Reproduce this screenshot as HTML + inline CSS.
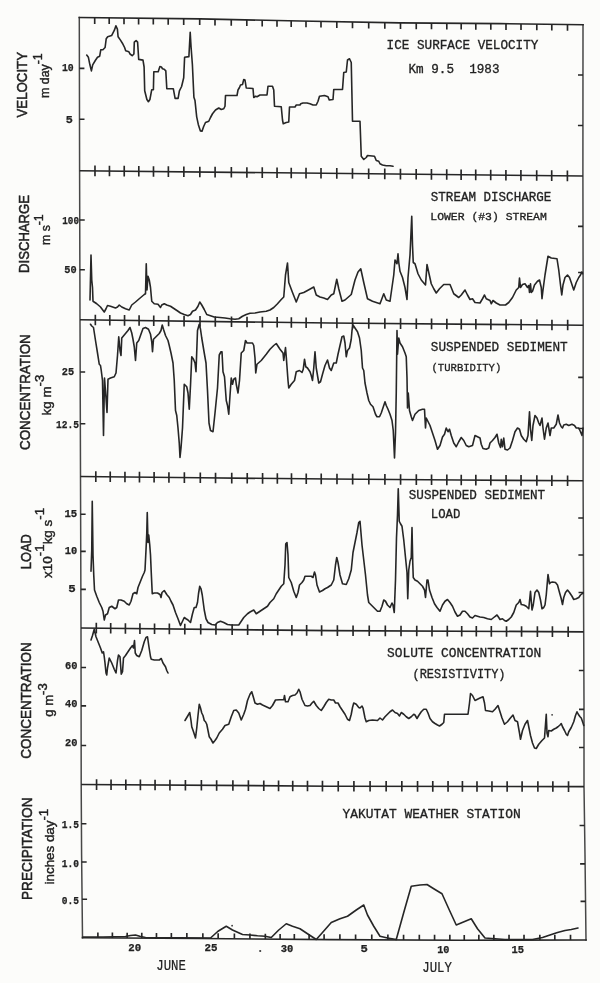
<!DOCTYPE html>
<html><head><meta charset="utf-8"><title>Figure</title>
<style>html,body{margin:0;padding:0;background:#fcfcfa;}svg{display:block;will-change:transform;}</style>
</head><body><svg width="600" height="983" viewBox="0 0 600 983"><rect width="600" height="983" fill="#fcfcfa"/><g fill="none" stroke="#262626" stroke-width="1.65" stroke-linecap="butt"><path d="M79.3 17.5 L79.6 170.7 L80 319.8 L80.5 476.5 L81 628 L81.2 784.5 L81.6 855 L82.5 937.7" stroke="#474747" stroke-width="1.5" stroke-linecap="square"/><path d="M583 24.7 L582.9 176 L583.2 325.2 L583.1 480.8 L583.7 631.8 L584 705 L584 786.6 L585 855 L586 940" stroke="#474747" stroke-width="1.5" stroke-linecap="square"/><path d="M79.3 17.5 L200 18.9 L300 21 L400 22.9 L500 23.6 L583 24.7" stroke-linecap="square"/><path d="M82.5 937.7 L200 938.5 L330 939.6 L460 940.2 L586 940" stroke-linecap="square"/><path d="M79.6 170.7 L582.9 176"/><path d="M80 319.8 L330 323 L583.2 325.2"/><path d="M80.5 476.5 L200 477.8 L330 479 L460 480 L583.1 480.8"/><path d="M81 628 L330 630.6 L583.7 631.8"/><path d="M81.2 784.5 L330 786.2 L584 786.6"/><path d="M94.7 17.68V23.88M109.2 17.85V24.05M124 18.02V24.22M138.6 18.19V24.39M153.3 18.36V24.56M168.2 18.53V24.73M183.7 18.71V24.91M199.7 18.9V25.1M215 19.21V25.41M231.25 19.56V25.76M246.8 19.88V26.08M262.2 20.21V26.41M277 20.52V26.72M291.2 20.82V27.02M306 21.11V27.31M321 21.4V27.6M336.8 21.7V27.9M352.5 22V28.2M368.7 22.31V28.51M384.8 22.61V28.81M400.5 22.9V29.1M416.25 23.01V29.21M431.5 23.12V29.32M446.8 23.23V29.43M461.2 23.33V29.53M475.8 23.43V29.63M490.8 23.54V29.74M506 23.68V29.88M521 23.88V30.08M536.8 24.09V30.29M551.8 24.29V30.49M567.5 24.49V30.69M94.98 165.56V176.16M109.45 165.71V176.31M124.23 165.87V176.47M138.81 166.02V176.62M153.49 166.18V176.78M168.37 166.33V176.93M183.85 166.5V177.1M199.83 166.67V177.27M215.11 166.83V177.43M231.34 167V177.6M246.88 167.16V177.76M262.26 167.32V177.92M277.05 167.48V178.08M291.23 167.63V178.23M306.02 167.78V178.38M321.01 167.94V178.54M336.79 168.11V178.71M352.48 168.27V178.87M368.67 168.44V179.04M384.76 168.61V179.21M400.45 168.78V179.38M416.19 168.94V179.54M431.44 169.11V179.71M446.73 169.27V179.87M461.12 169.42V180.02M475.72 169.57V180.17M490.71 169.73V180.33M505.91 169.89V180.49M520.91 170.05V180.65M536.7 170.21V180.81M551.7 170.37V180.97M567.4 170.54V181.14M95.34 314.7V325.3M109.79 314.88V325.48M124.54 315.07V325.67M139.09 315.26V325.86M153.74 315.44V326.04M168.6 315.63V326.23M184.06 315.83V326.43M200.02 316.04V326.64M215.29 316.23V326.83M231.5 316.44V327.04M247.02 316.64V327.24M262.39 316.83V327.43M277.17 317.02V327.62M291.35 317.21V327.81M306.13 317.39V327.99M321.11 317.59V328.19M336.89 317.76V328.36M352.58 317.9V328.5M368.77 318.04V328.64M384.86 318.18V328.78M400.56 318.31V328.91M416.31 318.45V329.05M431.56 318.58V329.18M446.86 318.72V329.32M461.26 318.84V329.44M475.87 318.97V329.57M490.88 319.1V329.7M506.1 319.23V329.83M521.11 319.36V329.96M536.93 319.5V330.1M551.95 319.63V330.23M567.67 319.77V330.37M95.81 471.37V481.97M110.23 471.52V482.12M124.95 471.68V482.28M139.47 471.84V482.44M154.1 472V482.6M168.93 472.16V482.76M184.37 472.33V482.93M200.3 472.5V483.1M215.54 472.64V483.24M231.74 472.79V483.39M247.23 472.94V483.54M262.58 473.08V483.68M277.34 473.21V483.81M291.49 473.34V483.94M306.25 473.48V484.08M321.22 473.62V484.22M336.98 473.75V484.35M352.65 473.87V484.47M368.83 474V484.6M384.9 474.12V484.72M400.58 474.24V484.84M416.32 474.36V484.96M431.55 474.48V485.08M446.84 474.6V485.2M461.24 474.71V485.31M475.83 474.8V485.4M490.83 474.9V485.5M506.04 475V485.6M521.04 475.1V485.7M536.85 475.2V485.8M551.86 475.3V485.9M567.58 475.4V486M96.3 622.86V633.46M110.7 623.01V633.61M125.41 623.16V633.76M139.92 623.32V633.92M154.54 623.47V634.07M169.36 623.62V634.22M184.79 623.78V634.38M200.72 623.95V634.55M215.95 624.11V634.71M232.14 624.28V634.88M247.63 624.44V635.04M262.98 624.6V635.2M277.73 624.75V635.35M291.89 624.9V635.5M306.65 625.06V635.66M321.62 625.21V635.81M337.39 625.33V635.93M353.06 625.41V636.01M369.24 625.49V636.09M385.32 625.56V636.16M401.01 625.64V636.24M416.75 625.71V636.31M432 625.78V636.38M447.3 625.85V636.45M461.7 625.92V636.52M476.31 625.99V636.59M491.32 626.06V636.66M506.54 626.14V636.74M521.57 626.21V636.81M537.39 626.28V636.88M552.42 626.35V636.95M568.16 626.43V637.03M96.57 779.31V789.91M111.05 779.4V790M125.82 779.5V790.1M140.39 779.6V790.2M155.06 779.7V790.3M169.94 779.81V790.41M185.41 779.91V790.51M201.38 780.02V790.62M216.65 780.13V790.73M232.88 780.24V790.84M248.4 780.34V790.94M263.77 780.45V791.05M278.55 780.55V791.15M292.72 780.65V791.25M307.49 780.75V791.35M322.46 780.85V791.45M338.24 780.91V791.51M353.91 780.94V791.54M370.08 780.96V791.56M386.15 780.99V791.59M401.83 781.01V791.61M417.55 781.04V791.64M432.77 781.06V791.66M448.05 781.09V791.69M462.42 781.11V791.71M476.99 781.13V791.73M491.96 781.16V791.76M507.14 781.18V791.78M522.11 781.2V791.8M537.88 781.23V791.83M552.85 781.25V791.85M568.53 781.28V791.88M97.89 932.5V937.8M112.39 932.6V937.9M127.18 932.7V938M141.78 932.8V938.1M156.47 932.9V938.2M171.36 933.01V938.31M186.86 933.11V938.41M202.85 933.22V938.52M218.15 933.35V938.65M234.39 933.49V938.79M249.93 933.62V938.92M265.33 933.75V939.05M280.12 933.88V939.18M294.32 934V939.3M309.11 934.12V939.42M324.1 934.25V939.55M339.9 934.35V939.65M355.59 934.42V939.72M371.78 934.49V939.79M387.88 934.57V939.87M403.57 934.64V939.94M419.32 934.71V940.01M434.56 934.78V940.08M449.85 934.85V940.15M464.25 934.89V940.19M478.84 934.87V940.17M493.84 934.85V940.15M509.03 934.82V940.12M524.02 934.8V940.1M539.82 934.77V940.07M554.81 934.75V940.05M570.51 934.72V940.02"/><path d="M79.4 68.3H84.4M582.97 75H577.97M79.5 119.2H84.5M582.93 125.5H577.93M79.73 220H84.73M583 226.3H578M79.87 269.7H84.87M583.09 272.5H578.09M80.17 372H85.17M583.17 377.3H578.17M80.33 423.7H85.33M583.13 428.5H578.13M80.62 514.2H85.62M583.25 518H578.25M80.75 551.4H85.75M583.39 555H578.39M80.87 589.3H85.87M583.54 592.5H578.54M81.05 667.5H86.05M583.86 670.5H578.86M81.1 705.8H86.1M584 709.3H579M81.15 745.5H86.15M584 747.5H579M81.42 823.7H86.42M584.57 825.5H579.57M81.68 862H86.68M585.1 863.8H580.1M82.08 899.2H87.08M585.54 901.3H580.54"/></g><g fill="none" stroke="#262626" stroke-width="1.6" stroke-linejoin="round" stroke-linecap="round"><path d="M86.7 55.1 88.4 57.3 89.9 64.8 91.4 70.9 92.7 64.8 95.3 60.5 97.5 57.3 99.7 56.2 100.8 49.7 102.9 49.7 105.1 47.5 106.2 38.8 107.7 36.7 111.6 35.6 114.4 30.2 115.9 25.8 117.4 29.1 118.1 36.7 120.3 39.9 122.4 43.2 124.6 47.5 125.7 50.8 128.9 51.8 130 54 132.2 55.7 133.9 54 134.3 42.1 136.1 40.6 137.6 42.1 138.7 59.4 143 60.1 144.1 67 144.7 90.8 146.9 99.5 148.4 101.7 149.9 99.5 151.7 89.8 153.4 89.8 153.8 71.8 158.2 71.8 159.9 66.6 161.4 67 162.5 68.7 164.2 69.2 165.8 70.9 166.8 88.7 173.3 88.7 175.1 98.4 178.1 98.4 179.4 90.8 181.6 86.5 183.7 77.8 184.6 57.3 188.9 56.6 190.2 32.3 191.1 47.5 192.4 64.8 193.9 97.3 195 100.6 196.7 116.8 198.3 124.4 200.4 130.9 202 131.25 203.75 126.25 205.5 122.5 208.75 121.25 210.5 117.5 212.5 113.75 215.5 110 218.75 108 221.25 109.5 223.75 108.75 225 106.25 225.5 95.5 237 95.5 238 90 239.5 87.5 240.5 85 242.5 84.5 243.75 79.5 245 80 246.25 88 253 88.5 253.75 97.5 255.5 96.25 257 96.75 260 95 267 95 268 86.25 272.5 86.25 273.75 90 274.5 106.25 281.25 106.75 282.5 120 283.25 123.75 286.25 122.5 288.75 122 289.5 107 295 107 296.25 105 300 105 300.75 103.75 303 103 307 103 310 103.75 313 105 316.25 105 318 101.25 319.5 96.25 324.5 95.5 328 96.75 329.25 100 333 99.5 333.75 89.5 342.5 89.5 343.75 72.5 346.25 72 347.5 60 349.5 58.75 351.25 62.5 352.5 121.25 360 121.25 361.25 156.25 363.75 159.5 366.25 157.5 367.5 155.5 374.5 156.25 376.25 160.5 378.75 161.25 380 163.75 382.5 165 386.25 165.75 390 165.75 393 166.25"/><path d="M90 300 91 255 91.75 280 92.5 287.5 93 301.25 96.75 303.75 100.5 307 104.25 312 106 308.75 107.5 305.5 110.5 306.25 115.5 308 117.5 307 119.25 305 121.75 307 125.5 308.75 129.25 310 131.75 305 135.5 302 139.25 298.75 144.25 294.5 145.5 293.75 146.25 263.75 147 290 148 276.25 149.25 280 150.5 287.5 151.75 301.25 154.25 303.75 158 304.25 160.5 307.5 161.75 305 164.25 303.75 166.75 305 170.5 306.25 174.25 308.75 178 311.25 180.5 313 184.25 314.5 188 315.75 190.5 314.5 192.5 311.25 195.5 310 198 306.25 199.75 302 201.75 305 204.25 309.5 206.75 314.5 210.5 315.75 214.25 317 220 317.5 225 318 230 318.75 235 319.25 238.75 318.75 242.5 316.25 246.25 314.5 250 313.25 255 313 260 312 266.25 311.25 270 310 273.75 307.5 277.5 303.75 281.25 299.5 283.75 297 285.5 275 287.5 263 288.75 282.5 292.5 292.5 296.25 302 299.5 293.75 303.75 292.5 307.5 290.5 313.75 287 316.25 295 320 297 323.75 298 327.5 299.5 331.25 295 333.75 293.75 336.75 279.25 338.75 288.75 342 301.25 345 300 351.25 294.5 355 280 358 272 360.75 268.75 363.75 282.5 367.5 298.75 372.5 301.25 380 303.75 383.75 293.75 386.25 300 390 301.25 393.75 275 395 260 397 263.75 398 253.75 398.75 262.5 400 271.25 402.5 277.5 405 287.5 407 299.5 408 277.5 410 255 411.75 216.25 412.5 245 413.25 262.5 415 263.75 418 273.75 421.25 280 425.5 285 427 264.5 428.75 272.5 431.25 283.75 433.75 288.75 436.25 293 439.5 288.75 443.75 284.5 450 284.5 453.75 293.75 458.75 297.5 461.25 295 465 290 467.5 295 470 299.5 472.5 298.75 475 302.5 480 303 482.5 298.75 484.5 295 486.25 298.75 490 300.5 491.25 303.75 493 300.5 496.25 303 500 305 505.5 305 508.75 302.5 512.5 297.5 516.25 290 518.75 287.5 519.5 278 520.5 287.5 522.5 284.5 525 283.75 527.5 287.5 528.75 285.5 529.5 292.5 530.5 283.75 531.25 292.5 532.5 291.25 534.5 285 537.5 281.25 539.5 280 541.25 287.5 542 298.75 543 290 545 275 547 262.5 548 256.25 551.25 258 557 258.75 558.75 270 560.5 285 561.75 295 563 285 565 277.5 567.5 275 569.5 277.5 571.25 282.5 573.75 290 576.25 282.5 578.75 277.5 580.5 275 581.75 272 582.5 273.75"/><path d="M90.5 324.25 91.75 326 93.5 327.5 95.5 340.5 97.5 353 99.25 364.25 100.5 365.5 101.25 370.5 102.5 380.5 103.5 435.5 104.5 378 106 398 107 412.5 108 379.25 110.5 378 114.25 376.75 116 373 117.5 355.5 118.75 336.75 120 350.5 121 355.5 121.75 338 124.25 335 128 330.5 130 327.5 131.75 333 133 339.25 134.25 346.75 135.5 360.5 136.75 343 138.75 340.5 140.5 335.5 143 328.5 145.5 327.5 148.5 329.25 150.5 334.25 151.75 341.75 152.5 351.75 153.5 339.25 156.75 336 159.25 333.5 161 330.5 162.25 325 163.5 329.25 165.5 335.5 168 340.5 169.25 345.5 171 353 173 363 174.25 380.5 175.5 410.5 176.75 415.5 178 428 179.25 443 180 457.5 181 448 182.5 428 184.25 384.25 186.75 386.75 188 393 189.25 409.25 190.5 385.5 191.75 356.75 193.5 359.25 195 363 196 371.75 197.5 330.5 199.25 324.25 200.5 329.25 201.75 338 204.25 353 206 363 207.5 390.5 209 423 210.5 430.5 213 431.75 215 413 217.5 388 219.25 355 221 351.75 222 351.75 223 371.75 224.5 376.75 226.25 400.5 227.5 405.5 228.75 414.25 230 395.5 231.25 378 232.5 384.25 233.75 379.25 235.5 378 236.25 384.25 238 393 239.5 380.5 241.25 353 243.75 350.5 245.5 340.5 247 343 252.5 343 253.75 345.5 255 358 255.75 373 257 364.25 261.25 360.5 266.25 354.25 270 349.25 273.75 345.5 276.25 343.5 280 349.25 283 353 283.75 360.5 285.5 347.5 286.25 356.75 288 380.5 288.75 388 291.25 384.25 294.5 380.5 296.25 371.75 299.5 370.5 302 372.5 303.25 369.25 304.5 359.25 305.75 366.75 307.5 368 310 371.75 311.25 375.5 312.5 380.5 313.75 368 315 351.75 316.25 368 317.5 375.5 318.75 383 320.5 381.75 322.5 374.25 325 365.5 327.5 360 329.5 368 331.25 370.5 332.5 366.75 333.75 363 336.25 363 338 354.25 340 345.5 342 336.75 343.75 336 345 343 346.25 356.75 347.5 350.5 349.5 348 351.25 339.25 352 330.5 353 325 355 328 357.5 331.75 359.5 338 361.25 350.5 362.5 368 363.75 370.5 365 383 367 393 368.75 400.5 370.5 404.25 373 406.75 375.5 414.25 377 416.75 379.5 416.75 381.25 413 383.75 405.5 385 401.75 386.25 405.5 388 409.25 390 414.25 392 420.5 393.25 430.5 394.5 458 395.5 433 396.25 393 397 330.5 397.5 354.25 398.75 338 400 343 402.5 346.75 405 353 406.25 356.75 407 378 407.5 408 408.25 393 409.5 410.5 411.25 416.75 412.5 420.5 415 414.25 418.75 410.5 422.5 409.25 424.5 409.25 425.5 428 426.25 418 427.5 420.5 430 425.5 432.5 433 435 440.5 437.5 449.25 440 445.5 442.5 437 444.5 434.25 446.25 428 448 431.75 449.5 429.25 451.25 435.5 453.75 443 456.25 446.75 458.75 441.75 461.25 437.5 463.75 440.5 466.25 445.5 468.75 446.75 472.5 445.5 475 435.5 477.5 436.75 480 438 481.25 444.25 483 448.5 486.25 449.25 488.75 448 490 443 492.5 440.5 495 437.5 497 434.25 498.75 443 500.5 447.5 501.25 439.25 502.5 446.75 503.75 438 505 449.25 507.5 450 510 448 512.5 440.5 515 431.75 517.5 428 519.5 429.25 521.25 435.5 523.75 439.25 526.25 441.75 528 435.5 529.5 411.75 530.5 429.25 531.75 440.5 533 425.5 535 415.5 537 418 538.75 423 540 425.5 542 418 543 428 544.5 439.25 546.25 428 548 423 550 435.5 551.25 428 553.75 428 556.25 424.25 558 415 559.5 423 561.25 426.75 562.5 428 563.75 425 566.25 424.25 568.75 425.5 572 424.25 574.5 425.5 576.25 428 578.75 428 580.5 431.75 582 435.5 583 428"/><path d="M91 571.25 91.75 550 92.25 501.25 93 555 93.75 575 94.5 590 96.75 596.25 99.25 602.5 101.75 607.5 103 611.25 104.25 620 105.5 615 107.5 613.75 109.25 607.5 111.75 606.25 115 608.75 116.75 607.5 118.5 600 121 600 124.25 601.25 126.75 603.75 129.25 605 131 601.25 133 593.75 135 592.5 136.75 593.75 138 587.5 140.5 581.25 142.5 576.25 144.25 572.5 145 570 146 550 146.75 533.75 147.25 512.5 148 542.5 148.75 535 149.75 545 150.5 555 151.25 572.5 152.25 593.75 154.25 593 157.5 593 160 594.5 161 597.5 162 592.5 164.25 590.5 166.75 594.5 169.25 597.5 171 601.25 173 605 175.5 612.5 178 618.75 180.5 625.5 182.5 621.25 184.25 617.5 186 618.75 188 620 190.5 622.5 192.5 613.75 194.25 607.5 196 607.5 197.5 602.5 198.5 593.75 199.75 586.25 201 588.75 202.25 595 204.25 610 206 618.75 208 622.5 211.75 624.5 215 625 217.5 622.5 220.5 621.25 223.75 622.5 227.5 624.5 231.25 625 235 625 238.75 625 241.25 621.25 243.75 617.5 247.5 613.75 250 612 253.75 610 256.25 613.75 260 611.25 263.75 608.75 267.5 606.25 270 602.5 273.75 598.75 276.25 593.75 278.75 590 281.25 586.25 283.75 583.75 285 565 285.75 543.75 287 542.5 288 555 288.75 577.5 291.25 582.5 293.75 591.25 296.25 597.5 298 592.5 299.5 585 302 582.5 303.75 580 305 576.25 308.75 576.25 311.25 576.25 313 577.5 314.5 572 315.5 575 317 585 319.5 592 322.5 590.5 325 588.75 327.5 587.5 331.25 585 333.75 580 335.5 565 336.75 557.5 338 562.5 340 575 342.5 583.75 346.25 584.5 348.75 578.75 351.25 570 353 552.5 355 542.5 357 532.5 358.75 522.5 360 521.25 362 545 363.75 560 365.5 575 367.5 595 368.75 602.5 371.25 605 375 608.75 377.5 611.25 380 611.25 382 606.25 383.75 600 385.5 601.25 387.5 605 390 607.5 392 603 393 605 394.25 612.5 395.5 580 396.5 537.5 397.5 515 398.25 488.75 399.25 521.25 400.5 523.75 402 526.25 403.75 540 405.5 557.5 407 572.5 407.75 598.75 408.75 570 410 561.25 411.25 557.5 412 527.5 412.75 562.5 413.25 577.5 415 580 417.5 581.25 420 583.75 422.5 586.25 424.5 590 425.5 597.5 427 580 428 580 429.5 590 432 597.5 434.5 603.75 437 607.5 440 611.25 442.5 605 445 601.25 447.5 599.5 450 602.5 452.5 606.25 455 612 457.5 616.25 460 615 462.5 611.25 465 611.25 467.5 613.75 470 617 472.5 618 475 615.5 477.5 616.25 480 617 483.75 617.5 487.5 618.75 491.25 619.5 493.75 617.5 497 615 498.75 617.5 500 619.5 502.5 618.75 504.5 620.5 506.25 621.25 508.75 619.5 511.25 617 513.75 612.5 516.25 605 518.75 602.5 520 599.5 521.25 604.5 523.75 605 526.25 606.25 528.75 608.75 530.5 591.25 532 610 533.25 605 535 592.5 537 590 538.75 592.5 540.5 600 542 608.75 543.75 607.5 545 605 546.25 595 548 574.5 549.5 583.75 550.5 582.5 552.5 582 555.5 582.5 557.5 585 559.5 592.5 561.25 598.75 562.5 604.5 563.75 597.5 565.5 592.5 567.5 590 569.5 592.5 572 596.25 573.75 599.5 576.25 598.75 578.75 597.5 580.5 595 582 593.75 583 593"/><path d="M91 640 92.5 635.5 94.25 629.25 96 636.75 98 641.75 100.5 648 102.25 653 103.5 651.75 104.25 656.75 105 663 106 673 106.75 675 107.5 668 109.25 658 111.75 663 114.25 669.25 116 673 117.5 660.5 118.5 655 120 656.75 121.25 674.25 122.5 671.75 123.5 658 125.5 655.5 128 651.75 130.5 648 132.5 645.5 133.5 648 134.5 640.5 135.25 653 136.75 655.5 139.25 656.75 141.75 650.5 144.25 641.75 146 637.5 147.5 636.75 148.75 645.5 150.5 656.75 151.25 659.25 154.25 660 159.25 660 161.25 658.5 163 663 165.5 666.75 166.75 670.5 168 673"/><path d="M185 720.5 188 715.5 189.75 712.5 191 720.5 191.75 726.75 193.5 731.75 195.5 738 196.75 728 198 715.5 199.25 704.25 200.5 708 201.75 713 203 715.5 204.25 720.5 205.5 721.75 206.75 724.25 208 730.5 209.25 736.75 211 739.25 213 743 215 740.5 216.75 738 219.25 733 222.5 729.25 225 725.5 228.75 724.25 231.25 716.75 233.75 710.5 236.25 710 238.75 713 241.25 720 243.75 714.25 245.5 709.25 247.5 700.5 250 694.25 251.75 691.75 253.25 696.75 255 703 257.5 704.25 260 703.5 262.5 705 266.25 706.75 270 708.5 272.5 705.5 275.5 700 279.5 699.75 283.75 699.75 284.5 695.5 285.5 701.75 288 701.75 290 696.75 292.5 695.5 295 695 297 693 298.75 689.25 300 691.75 302 699.25 305 705.5 307.5 706 310 705.5 312 703 313.75 701.25 316.25 705.5 318.75 708.5 321.25 710.5 323.75 706.75 326.25 702.5 328.75 699.25 331.25 700 333.75 700 335.5 703 338 703 340 706.75 342.5 710.5 345 714.25 347.5 719.25 349.5 720.5 351.25 714.25 352.5 707.5 353.75 703 356.25 704.25 358.75 707.5 360 708 362 706 363 708 365 718 366.25 721.75 368.75 720.5 372.5 720 377.5 720.5 380 718 382.5 720 385 716.75 387.5 714.25 390 711.75 392.5 710 395 712.5 397.5 713.5 399.5 716 401.25 712.5 403.75 714.25 406.25 716.75 408.75 718.5 411.25 716.75 413.75 714.25 415 715 417 718.5 418.75 715.5 421.25 711.75 423.75 709.25 426.25 709.25 428 713 430 718.5 432.5 721.75 435 723.5 437.5 725 439.5 726 442 724.25 443.75 722.5 444.5 714.25 450 714.25 460 714.25 468 714.25 469.5 703 470.5 693.5 472.5 695.5 475 700.5 477.5 699.25 480 698 483 696.75 484.5 703 485.5 710.5 488.75 711 492.5 711.75 495 709.25 498 705.5 500 711.75 502 718 504.5 724.25 507.5 721.75 510 718.5 513 715 515 720.5 517.5 721.75 519.5 733 520.5 739.25 522.5 730.5 525 724.25 527.5 720.5 528.75 726.75 530.5 735.5 532.5 743 534.5 748 536.25 748.5 538.75 744.25 542 740.5 544.5 738 546.25 714.25 547 733 548 736.75 548.75 730.5 551.25 731 553.75 729.25 556.25 728 558 726.75 560 725 561.25 723.5 562.5 726.75 564.5 730.5 566.25 734.25 567.5 735.5 568.75 731.75 571.25 727.5 573.75 721.75 575.5 715.5 577 711.75 578.25 714.25 580 716.75 581.25 718 583 723 583.75 725.5"/><path d="M83 937 103 937 125.5 936.5 130.5 935.5 135.5 935 140.5 936.5 145.5 937.5 210.5 938 218 931.25 226.25 926.25 232.5 930 242.5 934.5 250 935 257.5 935.75 265 936.25 271.25 937.5 278.75 930 286.25 923.75 292.5 926.25 300 928.75 307.5 933.75 316.25 939.5 322.5 932.5 331.25 922.5 340 918.75 347.5 916.25 356.25 910 363.75 905 367.5 915 373.75 926.25 380 936.25 387.5 938 396.25 939.5 403.75 912.5 411.25 886.25 420 885 427 884.5 433.75 888.75 442 893.75 448.75 908.75 456.25 925 471.25 918.75 477.5 928.75 485 938 495 938.75 505 939.5 515 939.5 532.5 939.5 542.5 937.5 550 935 557.5 932.5 565 930.5 571.25 929.5 578 928"/></g><g fill="#3a3a3a"><circle cx="260.2" cy="951" r="1.1"/><circle cx="552.1" cy="714.8" r="0.9"/><circle cx="232.1" cy="925.7" r="0.9"/></g><g fill="#222"><text x="386.6" y="49.1" style="font-family:&quot;Liberation Mono&quot;,monospace;font-size:13.5px;font-weight:normal;stroke:#222;stroke-width:0.32px" text-anchor="start" textLength="151.8" lengthAdjust="spacingAndGlyphs">ICE&#160;SURFACE&#160;VELOCITY</text><text x="408.5" y="73.1" style="font-family:&quot;Liberation Mono&quot;,monospace;font-size:13.5px;font-weight:normal;stroke:#222;stroke-width:0.32px" text-anchor="start" textLength="91" lengthAdjust="spacingAndGlyphs">Km&#160;9.5&#160;&#160;1983</text><text x="430.8" y="200.8" style="font-family:&quot;Liberation Mono&quot;,monospace;font-size:13.5px;font-weight:normal;stroke:#222;stroke-width:0.32px" text-anchor="start" textLength="120.5" lengthAdjust="spacingAndGlyphs">STREAM&#160;DISCHARGE</text><text x="430.3" y="220.1" style="font-family:&quot;Liberation Mono&quot;,monospace;font-size:11px;font-weight:normal;stroke:#222;stroke-width:0.32px" text-anchor="start" textLength="116.5" lengthAdjust="spacingAndGlyphs">LOWER&#160;(#3)&#160;STREAM</text><text x="430.8" y="350.6" style="font-family:&quot;Liberation Mono&quot;,monospace;font-size:13.5px;font-weight:normal;stroke:#222;stroke-width:0.32px" text-anchor="start" textLength="136.8" lengthAdjust="spacingAndGlyphs">SUSPENDED&#160;SEDIMENT</text><text x="431.5" y="371.2" style="font-family:&quot;Liberation Mono&quot;,monospace;font-size:11px;font-weight:normal;stroke:#222;stroke-width:0.32px" text-anchor="start" textLength="69.8" lengthAdjust="spacingAndGlyphs">(TURBIDITY)</text><text x="408.8" y="499.1" style="font-family:&quot;Liberation Mono&quot;,monospace;font-size:13.5px;font-weight:normal;stroke:#222;stroke-width:0.32px" text-anchor="start" textLength="136.3" lengthAdjust="spacingAndGlyphs">SUSPENDED&#160;SEDIMENT</text><text x="430.8" y="517.6" style="font-family:&quot;Liberation Mono&quot;,monospace;font-size:13.5px;font-weight:normal;stroke:#222;stroke-width:0.32px" text-anchor="start" textLength="29.5" lengthAdjust="spacingAndGlyphs">LOAD</text><text x="387" y="657.1" style="font-family:&quot;Liberation Mono&quot;,monospace;font-size:13.5px;font-weight:normal;stroke:#222;stroke-width:0.32px" text-anchor="start" textLength="154.3" lengthAdjust="spacingAndGlyphs">SOLUTE&#160;CONCENTRATION</text><text x="412.5" y="677.6" style="font-family:&quot;Liberation Mono&quot;,monospace;font-size:13px;font-weight:normal;stroke:#222;stroke-width:0.32px" text-anchor="start" textLength="93" lengthAdjust="spacingAndGlyphs">(RESISTIVITY)</text><text x="342.5" y="817.6" style="font-family:&quot;Liberation Mono&quot;,monospace;font-size:13.5px;font-weight:normal;stroke:#222;stroke-width:0.32px" text-anchor="start" textLength="178.3" lengthAdjust="spacingAndGlyphs">YAKUTAT&#160;WEATHER&#160;STATION</text><text x="156.3" y="970.2" style="font-family:&quot;Liberation Mono&quot;,monospace;font-size:14px;font-weight:normal;stroke:#222;stroke-width:0.22px" text-anchor="start" textLength="29.6" lengthAdjust="spacingAndGlyphs">JUNE</text><text x="422.3" y="971.8" style="font-family:&quot;Liberation Mono&quot;,monospace;font-size:14px;font-weight:normal;stroke:#222;stroke-width:0.22px" text-anchor="start" textLength="29.6" lengthAdjust="spacingAndGlyphs">JULY</text><text x="61.96" y="71" style="font-family:&quot;Liberation Mono&quot;,monospace;font-size:11px;font-weight:bold;stroke:#222;stroke-width:0.25px" textLength="11.77" lengthAdjust="spacingAndGlyphs">10</text><text x="65.82" y="122.6" style="font-family:&quot;Liberation Mono&quot;,monospace;font-size:11px;font-weight:bold;stroke:#222;stroke-width:0.25px" textLength="7.07" lengthAdjust="spacingAndGlyphs">5</text><text x="62.3" y="224.2" style="font-family:&quot;Liberation Mono&quot;,monospace;font-size:11px;font-weight:bold;stroke:#222;stroke-width:0.25px" textLength="16.69" lengthAdjust="spacingAndGlyphs">100</text><text x="64.23" y="273.4" style="font-family:&quot;Liberation Mono&quot;,monospace;font-size:11px;font-weight:bold;stroke:#222;stroke-width:0.25px" textLength="12.34" lengthAdjust="spacingAndGlyphs">50</text><text x="61.73" y="375.4" style="font-family:&quot;Liberation Mono&quot;,monospace;font-size:11px;font-weight:bold;stroke:#222;stroke-width:0.25px" textLength="12.34" lengthAdjust="spacingAndGlyphs">25</text><text x="55.98" y="427.5" style="font-family:&quot;Liberation Mono&quot;,monospace;font-size:11px;font-weight:bold;stroke:#222;stroke-width:0.25px" textLength="23.04" lengthAdjust="spacingAndGlyphs">12.5</text><text x="64.4" y="516.8" style="font-family:&quot;Liberation Mono&quot;,monospace;font-size:11px;font-weight:bold;stroke:#222;stroke-width:0.25px" textLength="12.8" lengthAdjust="spacingAndGlyphs">15</text><text x="64.72" y="554.3" style="font-family:&quot;Liberation Mono&quot;,monospace;font-size:11px;font-weight:bold;stroke:#222;stroke-width:0.25px" textLength="12.46" lengthAdjust="spacingAndGlyphs">10</text><text x="68.27" y="591.9" style="font-family:&quot;Liberation Mono&quot;,monospace;font-size:11px;font-weight:bold;stroke:#222;stroke-width:0.25px" textLength="7.47" lengthAdjust="spacingAndGlyphs">5</text><text x="65.02" y="668.9" style="font-family:&quot;Liberation Mono&quot;,monospace;font-size:11px;font-weight:bold;stroke:#222;stroke-width:0.25px" textLength="12.46" lengthAdjust="spacingAndGlyphs">60</text><text x="65.02" y="707.2" style="font-family:&quot;Liberation Mono&quot;,monospace;font-size:11px;font-weight:bold;stroke:#222;stroke-width:0.25px" textLength="12.46" lengthAdjust="spacingAndGlyphs">40</text><text x="65.02" y="746.4" style="font-family:&quot;Liberation Mono&quot;,monospace;font-size:11px;font-weight:bold;stroke:#222;stroke-width:0.25px" textLength="12.46" lengthAdjust="spacingAndGlyphs">20</text><text x="61.78" y="828.4" style="font-family:&quot;Liberation Mono&quot;,monospace;font-size:11px;font-weight:bold;stroke:#222;stroke-width:0.25px" textLength="17.24" lengthAdjust="spacingAndGlyphs">1.5</text><text x="61.78" y="866.7" style="font-family:&quot;Liberation Mono&quot;,monospace;font-size:11px;font-weight:bold;stroke:#222;stroke-width:0.25px" textLength="17.24" lengthAdjust="spacingAndGlyphs">1.0</text><text x="61.78" y="904.2" style="font-family:&quot;Liberation Mono&quot;,monospace;font-size:11px;font-weight:bold;stroke:#222;stroke-width:0.25px" textLength="17.24" lengthAdjust="spacingAndGlyphs">0.5</text><text x="128.19" y="950.8" style="font-family:&quot;Liberation Mono&quot;,monospace;font-size:11px;font-weight:bold;stroke:#222;stroke-width:0.25px" textLength="12.91" lengthAdjust="spacingAndGlyphs">20</text><text x="204.49" y="951" style="font-family:&quot;Liberation Mono&quot;,monospace;font-size:11px;font-weight:bold;stroke:#222;stroke-width:0.25px" textLength="13.03" lengthAdjust="spacingAndGlyphs">25</text><text x="280.71" y="951.5" style="font-family:&quot;Liberation Mono&quot;,monospace;font-size:11px;font-weight:bold;stroke:#222;stroke-width:0.25px" textLength="12.57" lengthAdjust="spacingAndGlyphs">30</text><text x="360.58" y="952" style="font-family:&quot;Liberation Mono&quot;,monospace;font-size:11px;font-weight:bold;stroke:#222;stroke-width:0.25px" textLength="7.33" lengthAdjust="spacingAndGlyphs">5</text><text x="437.24" y="952.7" style="font-family:&quot;Liberation Mono&quot;,monospace;font-size:11px;font-weight:bold;stroke:#222;stroke-width:0.25px" textLength="12.23" lengthAdjust="spacingAndGlyphs">10</text><text x="511.51" y="953" style="font-family:&quot;Liberation Mono&quot;,monospace;font-size:11px;font-weight:bold;stroke:#222;stroke-width:0.25px" textLength="12.57" lengthAdjust="spacingAndGlyphs">15</text><text transform="translate(27.1 117.5) rotate(-90)" x="0" y="0" style="font-family:&quot;Liberation Sans&quot;,sans-serif;font-size:15.4px;stroke:#222;stroke-width:0.5px" textLength="65.5" lengthAdjust="spacingAndGlyphs">VELOCITY</text><text transform="translate(28.8 272.9) rotate(-90)" x="0" y="0" style="font-family:&quot;Liberation Sans&quot;,sans-serif;font-size:15.4px;stroke:#222;stroke-width:0.5px" textLength="77.9" lengthAdjust="spacingAndGlyphs">DISCHARGE</text><text transform="translate(29.8 450) rotate(-90)" x="0" y="0" style="font-family:&quot;Liberation Sans&quot;,sans-serif;font-size:15.4px;stroke:#222;stroke-width:0.5px" textLength="115.8" lengthAdjust="spacingAndGlyphs">CONCENTRATION</text><text transform="translate(30.8 569.2) rotate(-90)" x="0" y="0" style="font-family:&quot;Liberation Sans&quot;,sans-serif;font-size:15.4px;stroke:#222;stroke-width:0.5px" textLength="35" lengthAdjust="spacingAndGlyphs">LOAD</text><text transform="translate(30.8 758.8) rotate(-90)" x="0" y="0" style="font-family:&quot;Liberation Sans&quot;,sans-serif;font-size:15.4px;stroke:#222;stroke-width:0.5px" textLength="116.6" lengthAdjust="spacingAndGlyphs">CONCENTRATION</text><text transform="translate(31.8 900) rotate(-90)" x="0" y="0" style="font-family:&quot;Liberation Sans&quot;,sans-serif;font-size:15.4px;stroke:#222;stroke-width:0.5px" textLength="102.5" lengthAdjust="spacingAndGlyphs">PRECIPITATION</text><text transform="translate(48.5 97.9) rotate(-90)" style="font-family:&quot;Liberation Sans&quot;,sans-serif;font-size:12.3px;stroke:#222;stroke-width:0.4px" textLength="44.6" lengthAdjust="spacingAndGlyphs">m day<tspan dy="-6.8">-1</tspan></text><text transform="translate(50.3 245) rotate(-90)" style="font-family:&quot;Liberation Sans&quot;,sans-serif;font-size:12.3px;stroke:#222;stroke-width:0.4px" textLength="30.7" lengthAdjust="spacingAndGlyphs">m s<tspan dy="-7.2">-1</tspan></text><text transform="translate(50.8 415.4) rotate(-90)" style="font-family:&quot;Liberation Sans&quot;,sans-serif;font-size:12.3px;stroke:#222;stroke-width:0.4px" textLength="40.8" lengthAdjust="spacingAndGlyphs">kg m<tspan dy="-6.6">-3</tspan></text><text transform="translate(52.4 577.9) rotate(-90)" style="font-family:&quot;Liberation Sans&quot;,sans-serif;font-size:12.3px;stroke:#222;stroke-width:0.4px" textLength="70.1" lengthAdjust="spacingAndGlyphs">x10<tspan dy="-8">-1</tspan><tspan dy="8">kg s</tspan><tspan dy="-8">-1</tspan></text><text transform="translate(52.9 716.7) rotate(-90)" style="font-family:&quot;Liberation Sans&quot;,sans-serif;font-size:12.3px;stroke:#222;stroke-width:0.4px" textLength="33.4" lengthAdjust="spacingAndGlyphs">g m<tspan dy="-6.3">-3</tspan></text><text transform="translate(53.7 884.4) rotate(-90)" style="font-family:&quot;Liberation Sans&quot;,sans-serif;font-size:12.3px;stroke:#222;stroke-width:0.4px" textLength="75.7" lengthAdjust="spacingAndGlyphs">inches day<tspan dy="-6.1">-1</tspan></text></g></svg></body></html>
